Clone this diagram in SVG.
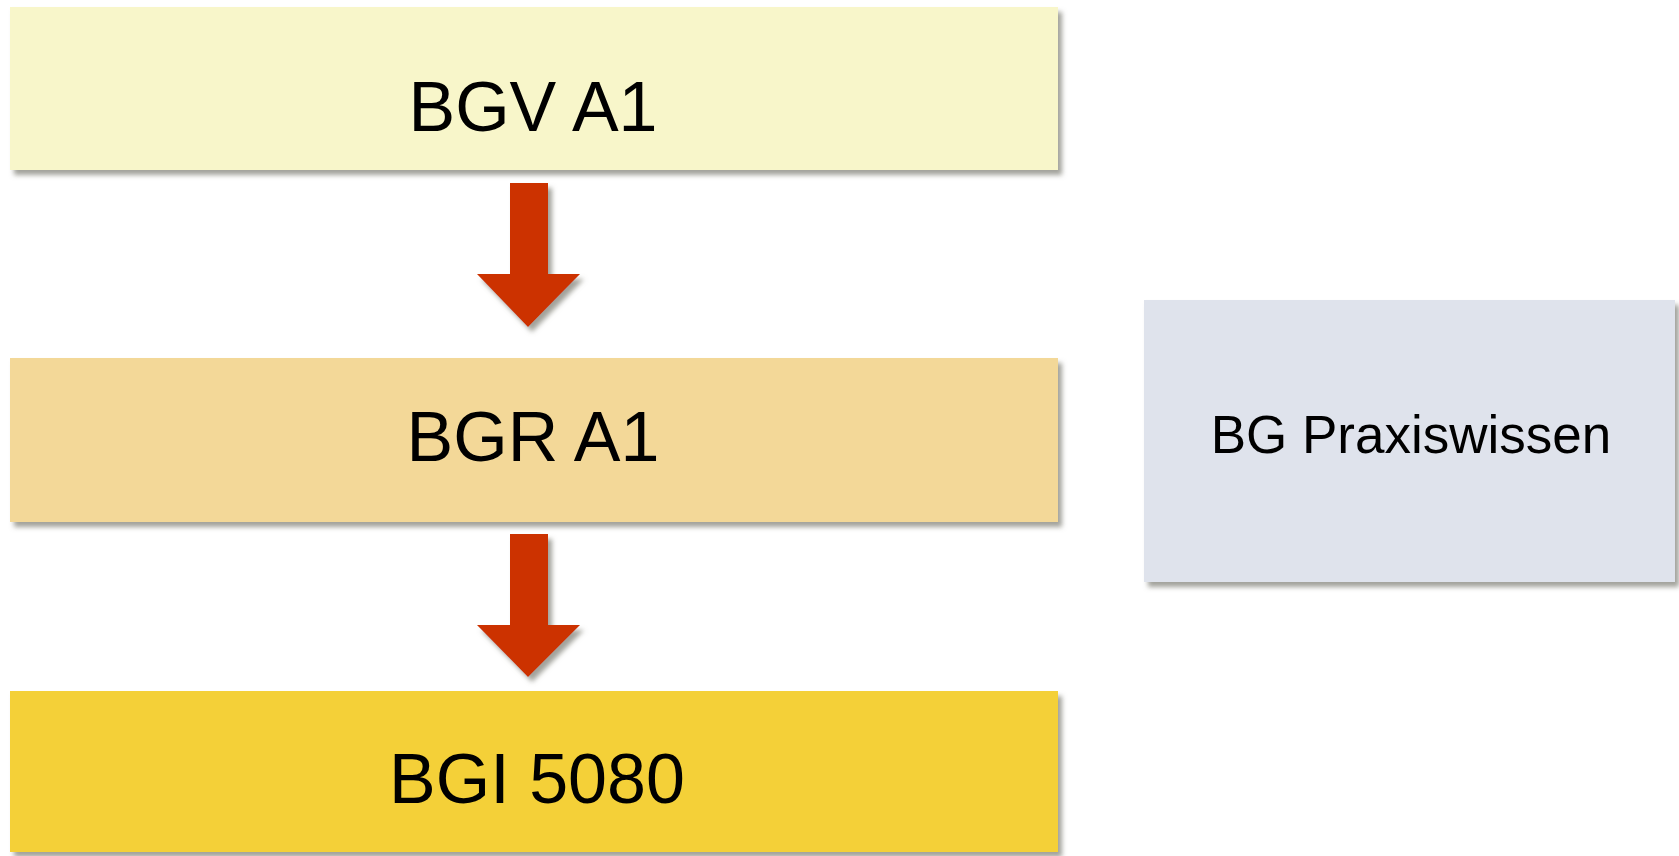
<svg xmlns="http://www.w3.org/2000/svg" width="1679" height="856" viewBox="0 0 1679 856">
<defs>
<filter id="sh" x="-5%" y="-10%" width="115%" height="130%">
<feDropShadow dx="4" dy="5" stdDeviation="2.5" flood-color="#7a7a70" flood-opacity="0.7"/>
</filter>
</defs>
<style>
.lbl{font-family:"Liberation Sans",Arial,sans-serif;fill:#000;text-anchor:middle}
.big{font-size:70px}
.small{font-size:53px}
.arrow{fill:#CC3300;filter:url(#sh)}
</style>
<rect width="1679" height="856" fill="#fff"/>
<g id="node-bgv">
<rect x="10" y="7" width="1048" height="163" fill="#F8F6CA" filter="url(#sh)"/>
<text class="lbl big" x="533" y="131">BGV A1</text>
</g>
<g id="node-bgr">
<rect x="10" y="358" width="1048" height="164" fill="#F3D898" filter="url(#sh)"/>
<text class="lbl big" x="533" y="461">BGR A1</text>
</g>
<g id="node-bgi">
<rect x="10" y="691" width="1048" height="161" fill="#F4D038" filter="url(#sh)"/>
<text class="lbl big" x="537" y="803">BGI 5080</text>
</g>
<g id="node-praxis">
<rect x="1144" y="300" width="531" height="282" fill="#DFE3EC" filter="url(#sh)"/>
<text class="lbl small" x="1411" y="453">BG Praxiswissen</text>
</g>
<g id="connectors">
<polygon class="arrow" points="510,183 548,183 548,274 580,274 528,327 477,274 510,274"/>
<polygon class="arrow" points="510,534 548,534 548,625 580,625 528,677 477,625 510,625"/>
</g>
</svg>
